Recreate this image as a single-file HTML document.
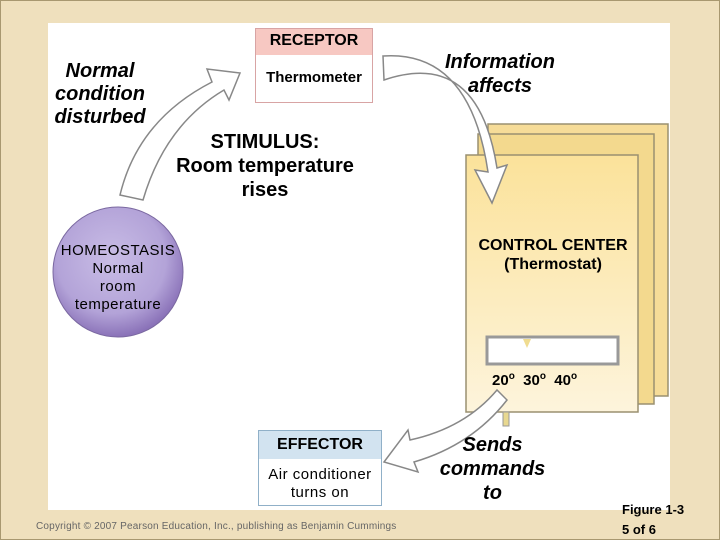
<!DOCTYPE html>
<html><head><style>
body{margin:0;width:720px;height:540px;overflow:hidden;background:#efe0bd;font-family:"Liberation Sans",sans-serif;}
.t{position:absolute;text-align:center;color:#000;}
</style></head><body>
<div style="position:absolute;left:0;top:0;width:718px;height:538px;border:1px solid #a89870;"></div>
<div style="position:absolute;left:48px;top:23px;width:622px;height:487px;background:#fff;"></div>
<svg style="position:absolute;left:0;top:0" width="720" height="540">
<defs>
<radialGradient id="g1" cx="45%" cy="40%" r="60%"><stop offset="0" stop-color="#c9bde6"/><stop offset="0.7" stop-color="#b3a3d8"/><stop offset="1" stop-color="#8a72b8"/></radialGradient>
<linearGradient id="g2" x1="0" y1="0" x2="0" y2="1"><stop offset="0" stop-color="#fbe29a"/><stop offset="1" stop-color="#fdf4dc"/></linearGradient>
</defs>
<rect x="488" y="124" width="180" height="272" fill="#f6dc98" stroke="#9a9070" stroke-width="1.5"/>
<rect x="478" y="134" width="176" height="270" fill="#f3d98e" stroke="#9a9070" stroke-width="1.5"/>
<rect x="466" y="155" width="172" height="257" fill="url(#g2)" stroke="#9a9070" stroke-width="1.5"/>
<rect x="487" y="337" width="131" height="27" fill="#fff" stroke="#999" stroke-width="3"/>
<polygon points="523,339 531,339 527,348" fill="#f0dc90"/>
<rect x="503" y="412" width="6" height="14" fill="#e8d890" stroke="#999"/>
<circle cx="118" cy="272" r="65" fill="url(#g1)" stroke="#7a68a0" stroke-width="1"/>
<path d="M120,195 Q138,120 212,82 L207,69 L240,73 L229,100 L224,90 Q165,125 143,200 Z" fill="#fff" stroke="#888" stroke-width="1.5"/>
<path d="M383,56 Q470,50 488,172 L475,170 L492,203 L507,165 L497,168 Q478,48 384,80 Z" fill="#fff" stroke="#888" stroke-width="1.5"/>
<path d="M497,390 Q465,428 410,440 L408,430 L384,462 L418,472 L414,462 Q472,445 507,400 Z" fill="#fff" stroke="#888" stroke-width="1.5"/>
<rect x="255.5" y="28.5" width="117" height="74" fill="#fff" stroke="#d8a4a4"/>
<rect x="256" y="29" width="116" height="26" fill="#f7c8c2"/>
<rect x="258.5" y="430.5" width="123" height="75" fill="#fff" stroke="#90b0c8"/>
<rect x="259" y="431" width="122" height="28" fill="#d2e3f0"/>
</svg>
<div class="t" style="left:255px;top:32px;width:118px;font-size:16px;font-weight:bold;">RECEPTOR</div>
<div class="t" style="left:255px;top:69px;width:118px;font-size:15px;font-weight:bold;">Thermometer</div>
<div class="t" style="left:40px;top:60px;width:120px;font-size:20px;font-style:italic;font-weight:bold;line-height:23px;">Normal<br>condition<br>disturbed</div>
<div class="t" style="left:150px;top:130px;width:230px;font-size:20px;line-height:24px;font-weight:bold;">STIMULUS:<br>Room temperature<br>rises</div>
<div class="t" style="left:420px;top:50px;width:160px;font-size:20px;font-style:italic;font-weight:bold;line-height:24px;">Information<br>affects</div>
<div class="t" style="left:48px;top:242px;width:140px;font-size:15px;line-height:18px;letter-spacing:0.5px;">HOMEOSTASIS<br>Normal<br>room<br>temperature</div>
<div class="t" style="left:458px;top:236px;width:190px;font-size:16px;font-weight:bold;line-height:19px;">CONTROL CENTER<br>(Thermostat)</div>
<div class="t" style="left:492px;top:371px;width:110px;font-size:15px;font-weight:bold;text-align:left;">20<sup style="font-size:10px">o</sup>&nbsp; 30<sup style="font-size:10px">o</sup>&nbsp; 40<sup style="font-size:10px">o</sup></div>
<div class="t" style="left:258px;top:436px;width:124px;font-size:16px;font-weight:bold;">EFFECTOR</div>
<div class="t" style="left:258px;top:466px;width:124px;font-size:15px;line-height:18px;letter-spacing:0.5px;">Air conditioner<br>turns on</div>
<div class="t" style="left:425px;top:433px;width:135px;font-size:20px;font-style:italic;font-weight:bold;line-height:24px;">Sends<br>commands<br>to</div>
<div class="t" style="left:622px;top:500px;font-size:13px;font-weight:bold;text-align:left;line-height:20px;">Figure 1-3<br>5 of 6</div>
<div class="t" style="left:36px;top:521px;font-size:10px;letter-spacing:0.2px;color:#666;text-align:left;">Copyright © 2007 Pearson Education, Inc., publishing as Benjamin Cummings</div>
</body></html>
